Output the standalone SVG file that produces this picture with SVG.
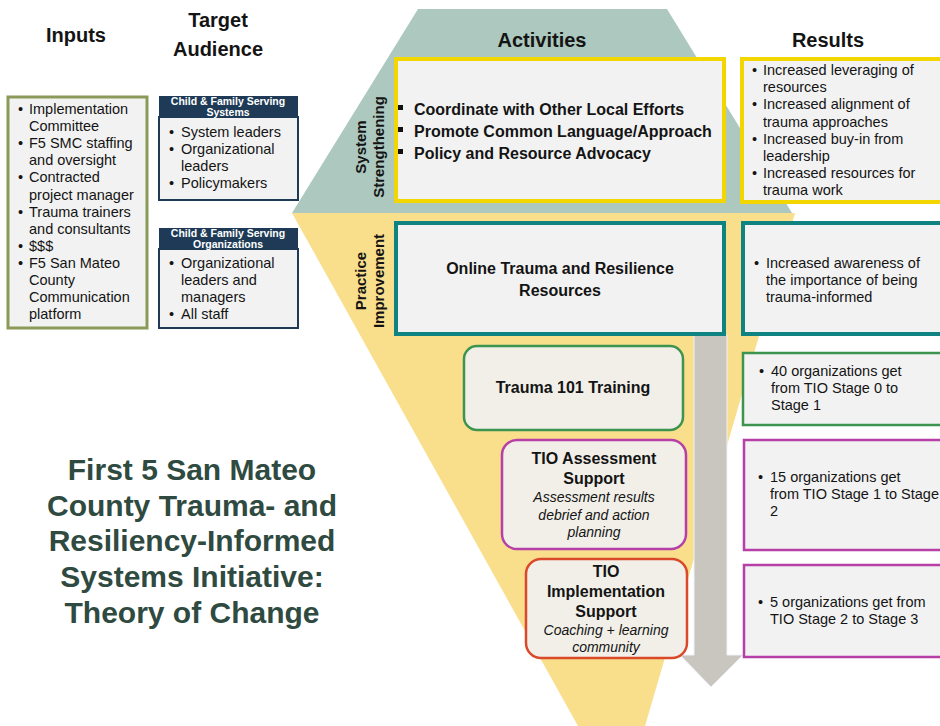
<svg xmlns="http://www.w3.org/2000/svg" width="940" height="726" viewBox="0 0 940 726">
  <style>
    text { font-family: "Liberation Sans", Arial, sans-serif; fill: #141414; }
    .hd { font-size: 20px; font-weight: bold; }
    .r { font-size: 14.5px; }
    .act { font-size: 16px; font-weight: bold; }
    .side { font-size: 15px; font-weight: bold; text-anchor: middle; }
    .mid { text-anchor: middle; }
    .it { font-style: italic; font-size: 14px; }
    .nav { font-size: 10.5px; font-weight: bold; fill: #ffffff; text-anchor: middle; }
    .title { font-size: 30px; font-weight: bold; fill: #2f4a40; text-anchor: middle; }
    .box { fill: #f2f2f2; }
    .rbox { fill: #f1efe8; }
  </style>

  <!-- background shapes: system strengthening band and practice funnel -->
  <g id="bands">
    <polygon points="292,213 795,213 645,726 578,726" fill="#f9de8c"/>
    <polygon points="418,9 667,9 792,213 292,213" fill="#adc8be"/>
  </g>

  <!-- column headers -->
  <g id="headers">
    <text class="hd mid" x="76" y="42">Inputs</text>
    <text class="hd mid" x="218" y="27">Target</text>
    <text class="hd mid" x="218" y="56">Audience</text>
    <text class="hd mid" x="542" y="47">Activities</text>
    <text class="hd mid" x="828" y="47">Results</text>
  </g>

  <!-- inputs -->
  <g id="inputs">
    <rect class="box" x="8" y="97" width="139" height="231" stroke="#8c9a58" stroke-width="3"/>
    <g class="r">
      <text x="18" y="114">•</text><text x="29" y="114">Implementation</text>
      <text x="29" y="131.1">Committee</text>
      <text x="18" y="148.2">•</text><text x="29" y="148.2">F5 SMC staffing</text>
      <text x="29" y="165.3">and oversight</text>
      <text x="18" y="182.4">•</text><text x="29" y="182.4">Contracted</text>
      <text x="29" y="199.5">project manager</text>
      <text x="18" y="216.6">•</text><text x="29" y="216.6">Trauma trainers</text>
      <text x="29" y="233.7">and consultants</text>
      <text x="18" y="250.8">•</text><text x="29" y="250.8">$$$</text>
      <text x="18" y="267.9">•</text><text x="29" y="267.9">F5 San Mateo</text>
      <text x="29" y="285">County</text>
      <text x="29" y="302.1">Communication</text>
      <text x="29" y="319.2">platform</text>
    </g>
  </g>

  <!-- target audience: systems -->
  <g id="audience-systems">
    <rect class="box" x="159" y="117" width="139" height="83" stroke="#1e3a56" stroke-width="2"/>
    <rect x="159" y="96" width="139" height="21" fill="#1e3a56"/>
    <text class="nav" x="228" y="104.5">Child &amp; Family Serving</text>
    <text class="nav" x="228" y="115.5">Systems</text>
    <g class="r">
      <text x="169" y="137">•</text><text x="181" y="137">System leaders</text>
      <text x="169" y="154">•</text><text x="181" y="154">Organizational</text>
      <text x="181" y="171">leaders</text>
      <text x="169" y="188">•</text><text x="181" y="188">Policymakers</text>
    </g>
  </g>

  <!-- target audience: organizations -->
  <g id="audience-orgs">
    <rect class="box" x="159" y="249" width="139" height="79" stroke="#1e3a56" stroke-width="2"/>
    <rect x="159" y="228" width="139" height="21" fill="#1e3a56"/>
    <text class="nav" x="228" y="236.5">Child &amp; Family Serving</text>
    <text class="nav" x="228" y="247.5">Organizations</text>
    <g class="r">
      <text x="169" y="268">•</text><text x="181" y="268">Organizational</text>
      <text x="181" y="285">leaders and</text>
      <text x="181" y="302">managers</text>
      <text x="169" y="319">•</text><text x="181" y="319">All staff</text>
    </g>
  </g>

  <!-- band labels -->
  <g id="band-labels">
    <text class="side" transform="translate(366,147) rotate(-90)">System</text>
    <text class="side" transform="translate(384,147) rotate(-90)">Strengthening</text>
    <text class="side" transform="translate(366,281) rotate(-90)">Practice</text>
    <text class="side" transform="translate(384,281) rotate(-90)">Improvement</text>
  </g>

  <!-- connector: progression arrow -->
  <g id="connectors">
    <polygon points="694,335 727,335 727,655 743,655 711,687 680,655 694,655" fill="#c9c6bf" stroke="#eef2f8" stroke-width="1"/>
  </g>

  <!-- activities -->
  <g id="act-system">
    <rect class="box" x="396" y="59" width="328" height="142" stroke="#f3d600" stroke-width="4"/>
    <rect x="398" y="105" width="5" height="5" fill="#111"/>
    <rect x="398" y="127" width="5" height="5" fill="#111"/>
    <rect x="398" y="149" width="5" height="5" fill="#111"/>
    <text class="act" x="414" y="115">Coordinate with Other Local Efforts</text>
    <text class="act" x="414" y="137">Promote Common Language/Approach</text>
    <text class="act" x="414" y="159">Policy and Resource Advocacy</text>
  </g>

  <g id="act-online">
    <rect class="box" x="396" y="223" width="328" height="111" stroke="#0f8282" stroke-width="4"/>
    <text class="act mid" x="560" y="274">Online Trauma and Resilience</text>
    <text class="act mid" x="560" y="296">Resources</text>
  </g>

  <g id="act-trauma101">
    <rect class="rbox" x="464" y="346" width="219" height="84" rx="13" stroke="#3d944f" stroke-width="2.5"/>
    <text class="act mid" x="573" y="393">Trauma 101 Training</text>
  </g>

  <g id="act-assessment">
    <rect class="rbox" x="502" y="440" width="184" height="109" rx="15" stroke="#b63fa8" stroke-width="2.5"/>
    <text class="act mid" x="594" y="464">TIO Assessment</text>
    <text class="act mid" x="594" y="484">Support</text>
    <text class="it mid" x="594" y="502">Assessment results</text>
    <text class="it mid" x="594" y="520">debrief and action</text>
    <text class="it mid" x="594" y="537">planning</text>
  </g>

  <g id="act-implementation">
    <rect class="rbox" x="526" y="559" width="161" height="99" rx="15" stroke="#d9492a" stroke-width="2.5"/>
    <text class="act mid" x="606" y="577">TIO</text>
    <text class="act mid" x="606" y="597">Implementation</text>
    <text class="act mid" x="606" y="617">Support</text>
    <text class="it mid" x="606" y="635">Coaching + learning</text>
    <text class="it mid" x="606" y="652">community</text>
  </g>

  <!-- results -->
  <g id="res-system">
    <rect class="box" x="742" y="59" width="220" height="143" stroke="#f3d600" stroke-width="4"/>
    <g class="r">
      <text x="752" y="75">•</text><text x="763" y="75">Increased leveraging of</text>
      <text x="763" y="92">resources</text>
      <text x="752" y="109">•</text><text x="763" y="109">Increased alignment of</text>
      <text x="763" y="127">trauma approaches</text>
      <text x="752" y="144">•</text><text x="763" y="144">Increased buy-in from</text>
      <text x="763" y="161">leadership</text>
      <text x="752" y="178">•</text><text x="763" y="178">Increased resources for</text>
      <text x="763" y="195">trauma work</text>
    </g>
  </g>

  <g id="res-online">
    <rect class="box" x="743" y="223" width="220" height="111" stroke="#0f8282" stroke-width="4"/>
    <g class="r">
      <text x="754" y="268">•</text><text x="766" y="268">Increased awareness of</text>
      <text x="766" y="285">the importance of being</text>
      <text x="766" y="302">trauma-informed</text>
    </g>
  </g>

  <g id="res-stage1">
    <rect class="box" x="743" y="353" width="220" height="72" stroke="#3d944f" stroke-width="2.5"/>
    <g class="r">
      <text x="759" y="376">•</text><text x="771" y="376">40 organizations get</text>
      <text x="771" y="393">from TIO Stage 0 to</text>
      <text x="771" y="410">Stage 1</text>
    </g>
  </g>

  <g id="res-stage2">
    <rect class="box" x="744" y="440" width="220" height="110" stroke="#b63fa8" stroke-width="2.5"/>
    <g class="r">
      <text x="758" y="482">•</text><text x="770" y="482">15 organizations get</text>
      <text x="770" y="499">from TIO Stage 1 to Stage</text>
      <text x="770" y="516">2</text>
    </g>
  </g>

  <g id="res-stage3">
    <rect class="box" x="744" y="565" width="220" height="92" stroke="#b63fa8" stroke-width="2.5"/>
    <g class="r">
      <text x="758" y="607">•</text><text x="770" y="607">5 organizations get from</text>
      <text x="770" y="624">TIO Stage 2 to Stage 3</text>
    </g>
  </g>

  <!-- title -->
  <g id="title">
    <text class="title" x="192" y="480">First 5 San Mateo</text>
    <text class="title" x="192" y="516">County Trauma- and</text>
    <text class="title" x="192" y="551">Resiliency-Informed</text>
    <text class="title" x="192" y="587">Systems Initiative:</text>
    <text class="title" x="192" y="623">Theory of Change</text>
  </g>
</svg>
